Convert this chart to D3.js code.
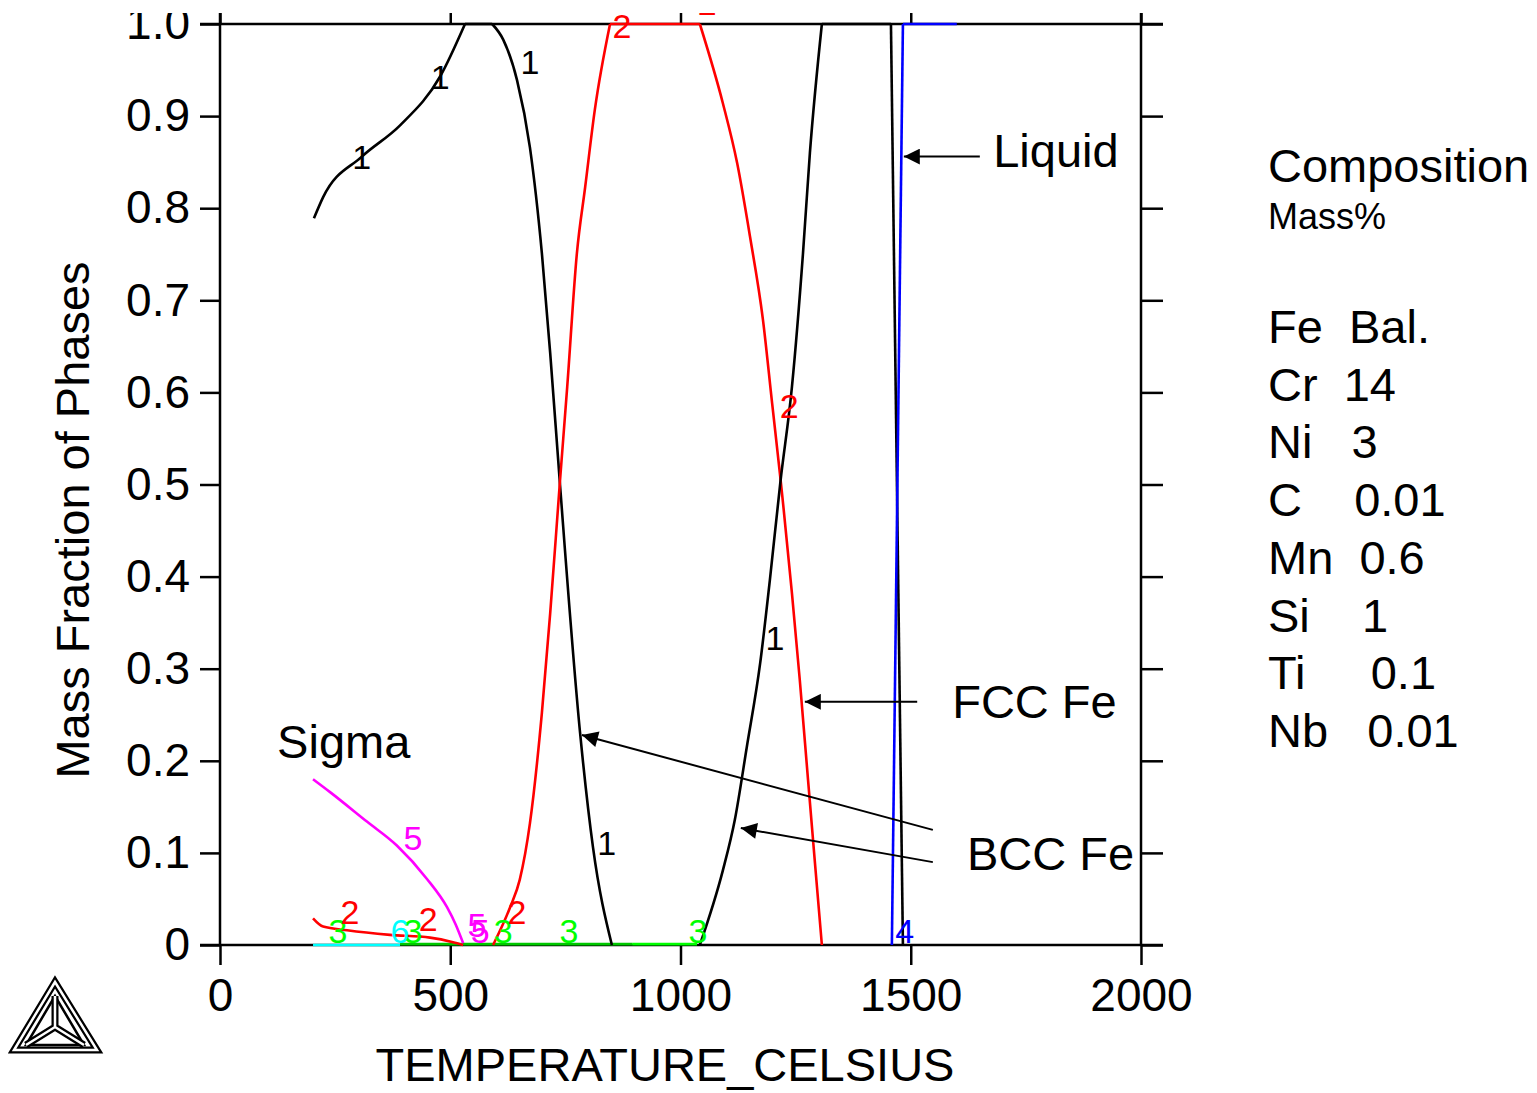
<!DOCTYPE html>
<html>
<head>
<meta charset="utf-8">
<script src="https://cdn.jsdelivr.net/npm/d3@7"></script>
<style>
  body { margin: 0; background: #fff; }
  svg { display: block; font-family: "Liberation Sans", Arial, sans-serif; }
</style>
</head>
<body>
<div id="chart"></div>
<script>
// phase fractions (temperature in C, mass fraction)
const bccLowT  = [204, 224, 308, 391, 478, 532, 591, 615, 645, 673, 699, 717, 738, 782, 810, 851];
const bccLowF  = [0.789, 0.812, 0.856, 0.890, 0.943, 1.0, 1.0, 0.983, 0.939, 0.866, 0.751, 0.643, 0.502, 0.230, 0.106, 0];
const bccHighT = [1042, 1092, 1118, 1144, 1173, 1194, 1217, 1242, 1266, 1281, 1307, 1457, 1483];
const bccHighF = [0, 0.081, 0.136, 0.215, 0.306, 0.396, 0.503, 0.606, 0.751, 0.860, 1.0, 1.0, 0];
const fccT = [593, 630, 651, 673, 699, 717, 738, 754, 775, 793, 814, 847, 1042, 1092, 1123, 1151, 1179, 1199, 1218, 1259, 1277, 1292, 1307];
const fccF = [0, 0.041, 0.071, 0.132, 0.252, 0.360, 0.502, 0.606, 0.751, 0.823, 0.907, 1.0, 1.0, 0.914, 0.849, 0.769, 0.679, 0.588, 0.502, 0.288, 0.179, 0.089, 0];
const fccLowT = [202, 224, 276, 369, 456, 506, 528];
const fccLowF = [0.029, 0.020, 0.016, 0.011, 0.008, 0.003, 0];
const sigmaT = [202, 239, 319, 384, 449, 493, 512, 528];
const sigmaF = [0.180, 0.166, 0.134, 0.108, 0.072, 0.041, 0.022, 0.002];
const liquidT = [1459, 1483, 1600];
const liquidF = [0, 1, 1];
const carbideT = [202, 391];      // phase 6
const carbideF = [0, 0];
const mcT = [391, 895, 1036];     // phase 3
const mcF = [0.001, 0.001, 0.001];

const xTicks = [0, 500, 1000, 1500, 2000];
const yTicks = [0, 0.1, 0.2, 0.3, 0.4, 0.5, 0.6, 0.7, 0.8, 0.9, 1.0];

// curve labels: [temperature, fraction, text]
const labels1 = [[308, 0.856, '1'], [478, 0.943, '1'], [673, 0.959, '1'], [840, 0.111, '1'], [1205, 0.334, '1'], [492, 1.03, '1'], [540, 1.03, '1']];
const labels2 = [[873, 0.998, '2'], [1058, 1.023, '2'], [1236, 0.585, '2'], [282, 0.036, '2'], [452, 0.029, '2'], [645, 0.036, '2']];
const labels3 = [[256, 0.016, '3'], [419, 0.016, '3'], [615, 0.016, '3'], [758, 0.016, '3'], [1038, 0.016, '3']];
const labels4 = [[1487, 0.016, '4'], [1497, 1.025, '4']];
const labels5 = [[419, 0.116, '5'], [558, 0.022, '5'], [565, 0.016, '5']];
const labels6 = [[391, 0.016, '6']];

const composition = ['Fe  Bal.', 'Cr  14', 'Ni   3', 'C    0.01', 'Mn  0.6', 'Si    1', 'Ti     0.1', 'Nb   0.01'];

var W = 1537, H = 1093;
var svg = d3.select('#chart').append('svg').attr('width', W).attr('height', H);
var x = d3.scaleLinear().domain([0, 2000]).range([220, 1141]);
var y = d3.scaleLinear().domain([0, 1]).range([945, 24]);
var FS = 46;

svg.append('defs').append('marker').attr('id', 'arr')
    .attr('viewBox', '0 0 10 10').attr('refX', 10).attr('refY', 5)
    .attr('markerUnits', 'userSpaceOnUse').attr('markerWidth', 24).attr('markerHeight', 16)
    .attr('orient', 'auto')
    .append('path').attr('d', 'M0,0 L10,5 L0,10 z').attr('fill', '#000');

// axes
function style_axis(g) {
    g.attr('font-family', '"Liberation Sans", Arial, sans-serif').attr('font-size', FS);
    g.selectAll('line').attr('stroke', '#000').attr('stroke-width', 2.5);
    g.selectAll('text').attr('fill', '#000');
    g.select('.domain').remove();
}
svg.append('g').attr('transform', 'translate(0,945)')
    .call(d3.axisBottom(x).tickValues(xTicks).tickSize(20).tickPadding(13).tickFormat(d3.format('d')))
    .call(style_axis);
svg.append('g').attr('transform', 'translate(220,0)')
    .call(d3.axisLeft(y).tickValues(yTicks).tickSize(20).tickPadding(10).tickFormat(d => d === 0 ? '0' : d.toFixed(1)))
    .call(style_axis);
svg.append('g').attr('transform', 'translate(1141,0)')
    .call(d3.axisRight(y).tickValues(yTicks).tickSize(22).tickFormat(''))
    .call(style_axis);
svg.append('g').attr('transform', 'translate(0,24)')
    .call(d3.axisTop(x).tickValues(xTicks).tickSize(12).tickFormat(''))
    .call(style_axis);

var frame = svg.append('g').attr('stroke', '#000').attr('stroke-width', 2.5);
frame.append('line').attr('x1', 200).attr('x2', 1163).attr('y1', y(0)).attr('y2', y(0));
frame.append('line').attr('x1', 200).attr('x2', 1163).attr('y1', y(1)).attr('y2', y(1));
frame.append('line').attr('x1', x(0)).attr('x2', x(0)).attr('y1', 0).attr('y2', y(0));
frame.append('line').attr('x1', x(2000)).attr('x2', x(2000)).attr('y1', 0).attr('y2', y(0));

// curves: flat stretches straight, the rest smoothed
var smooth = d3.line().x(d => x(d[0])).y(d => y(d[1])).curve(d3.curveMonotoneX);
function draw_curve(ts, fs, color) {
    var pts = d3.zip(ts, fs);
    var pieces = [], cur = [pts[0]];
    for (var i = 1; i < pts.length; i++) {
        var flat = pts[i][1] === pts[i - 1][1];
        if (flat) {
            if (cur.length > 1) pieces.push(cur);
            pieces.push([pts[i - 1], pts[i]]);
            cur = [pts[i]];
        } else {
            cur.push(pts[i]);
        }
    }
    if (cur.length > 1) pieces.push(cur);
    svg.append('g').selectAll('path').data(pieces).join('path').attr('d', smooth)
        .attr('fill', 'none').attr('stroke', color).attr('stroke-width', 2.6).attr('stroke-linejoin', 'round');
}
draw_curve(carbideT, carbideF, '#00ffff');
draw_curve(mcT.slice(0, 2), mcF.slice(0, 2), '#00c800');
draw_curve(mcT.slice(1), mcF.slice(1), '#00ff00');
draw_curve(fccLowT, fccLowF, '#ff0000');
draw_curve(sigmaT, sigmaF, '#ff00ff');
draw_curve(bccLowT, bccLowF, '#000');
draw_curve(fccT, fccF, '#ff0000');
draw_curve(bccHighT, bccHighF, '#000');
draw_curve(liquidT, liquidF, '#0000ff');

function draw_labels(list, color) {
    svg.append('g').selectAll('text').data(list).join('text')
        .attr('x', d => x(d[0])).attr('y', d => y(d[1]))
        .attr('dy', '0.36em').attr('text-anchor', 'middle')
        .attr('font-size', 34).attr('fill', color).text(d => d[2]);
}
draw_labels(labels3, '#00ff00');
draw_labels(labels6, '#00ffff');
draw_labels(labels5, '#ff00ff');
draw_labels(labels2, '#ff0000');
draw_labels(labels1, '#000');
draw_labels(labels4, '#0000ff');

// annotations
var notes = [
    {text: 'Liquid', tx: 1679, tf: 0.845, arrows: [[1650, 0.856, 1485, 0.856]]},
    {text: 'FCC Fe', tx: 1590, tf: 0.246, arrows: [[1514, 0.264, 1270, 0.264]]},
    {text: 'BCC Fe', tx: 1622, tf: 0.081, arrows: [[1548, 0.125, 786, 0.228], [1548, 0.090, 1131, 0.127]]},
    {text: 'Sigma', tx: 124, tf: 0.203, arrows: []}
];
notes.forEach(n => {
    n.arrows.forEach(a => {
        svg.append('line').attr('x1', x(a[0])).attr('y1', y(a[1])).attr('x2', x(a[2])).attr('y2', y(a[3]))
            .attr('stroke', '#000').attr('stroke-width', 2).attr('marker-end', 'url(#arr)');
    });
    svg.append('text').attr('x', x(n.tx)).attr('y', y(n.tf)).attr('font-size', 47).text(n.text);
});

// crop the top like the source picture
svg.append('rect').attr('x', 0).attr('y', 0).attr('width', W).attr('height', 13).attr('fill', '#fff');

// axis titles
svg.append('text').attr('x', 665).attr('y', 1081).attr('text-anchor', 'middle').attr('font-size', 47).text('TEMPERATURE_CELSIUS');
svg.append('text').attr('transform', 'translate(89,520) rotate(-90)').attr('text-anchor', 'middle').attr('font-size', 47).text('Mass Fraction of Phases');

// composition box
svg.append('text').attr('x', 1268).attr('y', 182).attr('font-size', 47).text('Composition');
svg.append('text').attr('x', 1268).attr('y', 229).attr('font-size', 36).text('Mass%');
svg.append('g').selectAll('text').data(composition).join('text')
    .attr('x', 1268).attr('y', (d, i) => 343 + i * 57.7)
    .attr('font-size', 47).style('white-space', 'pre').text(d => d);

// logo
var logo = svg.append('g').attr('fill', 'none').attr('stroke-linejoin', 'miter');
var tri = 'M55,982 L14,1050 L97,1050 Z';
logo.append('path').attr('d', tri).attr('stroke', '#000').attr('stroke-width', 7);
logo.append('path').attr('d', tri).attr('stroke', '#fff').attr('stroke-width', 2.5);
var inner = 'M55,996 L26,1045 L84,1045 Z';
logo.append('path').attr('d', inner).attr('stroke', '#000').attr('stroke-width', 2.5);
var spokes = 'M55,1027 L55,996 M55,1027 L26,1045 M55,1027 L84,1045';
logo.append('path').attr('d', spokes).attr('stroke', '#000').attr('stroke-width', 7);
logo.append('path').attr('d', spokes).attr('stroke', '#fff').attr('stroke-width', 2.5);
</script>
</body>
</html>
